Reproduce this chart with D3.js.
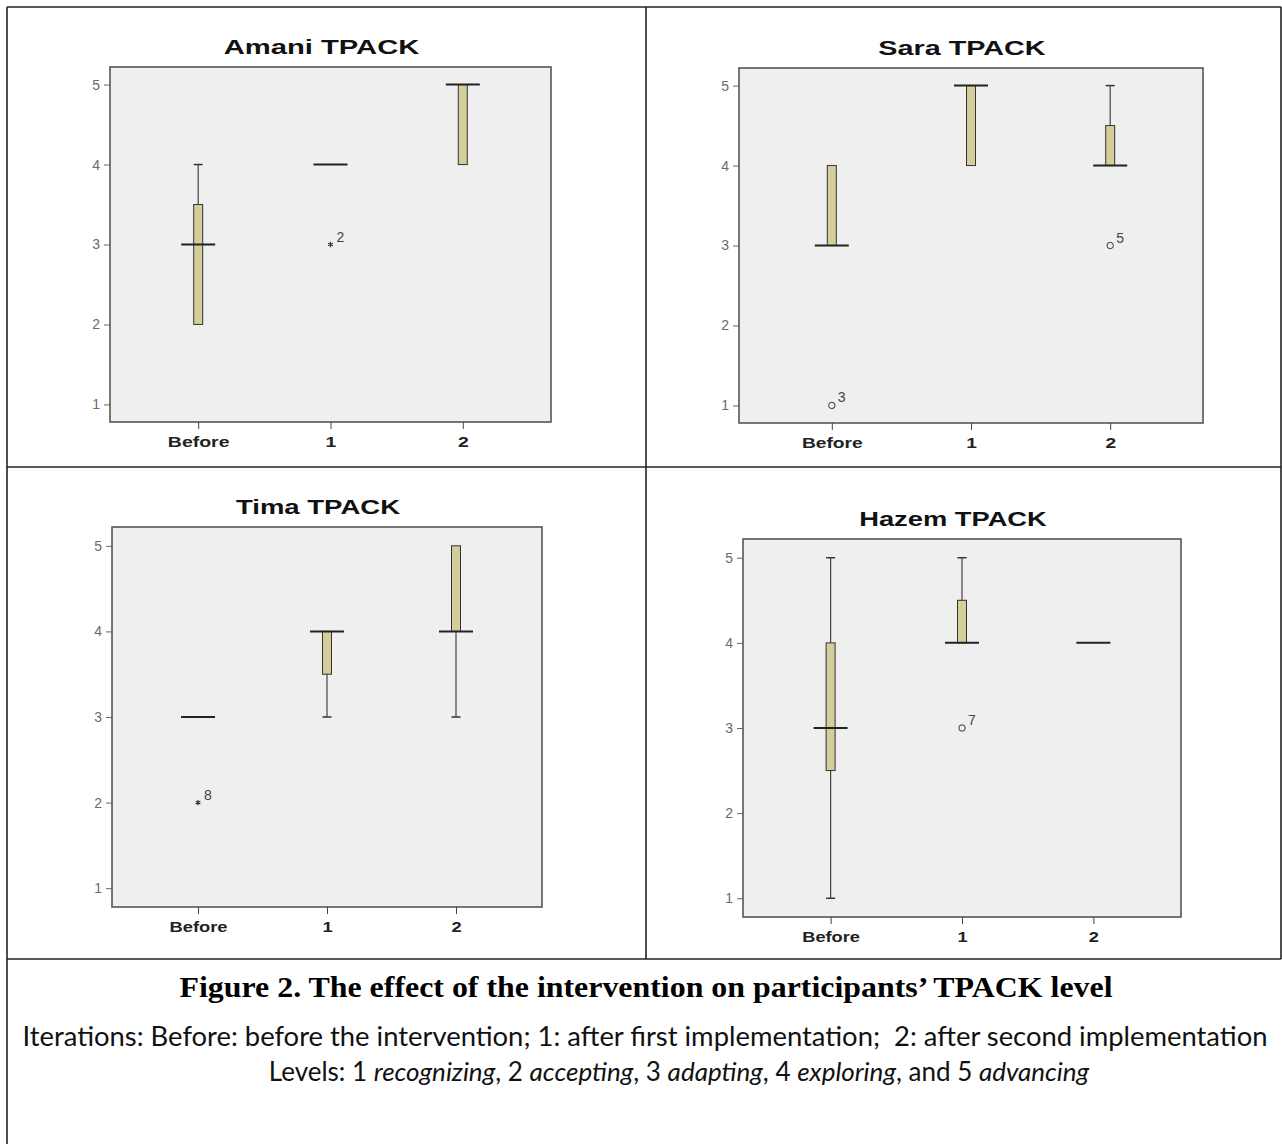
<!DOCTYPE html>
<html>
<head>
<meta charset="utf-8">
<script src="https://cdn.jsdelivr.net/npm/d3@7"></script>
<style>
  body { margin: 0; background: #fff; }
  svg { display: block; }
</style>
</head>
<body>
<div id="figure"></div>
<script>
    // iterations and level ticks
    const categories = ["Before", "1", "2"];
    const yTicks = [1, 2, 3, 4, 5];
    const participants = ["Amani", "Sara", "Tima", "Hazem"];

    // boxplot summaries per iteration: [min, q1, median, q3, max]
    const amaniStats = [[2, 2, 3, 3.5, 4], [4, 4, 4, 4, 4], [4, 4, 5, 5, 5]];
    const saraStats  = [[3, 3, 3, 4, 4], [4, 4, 5, 5, 5], [4, 4, 4, 4.5, 5]];
    const timaStats  = [[3, 3, 3, 3, 3], [3, 3.5, 4, 4, 4], [3, 4, 4, 5, 5]];
    const hazemStats = [[1, 2.5, 3, 4, 5], [4, 4, 4, 4.5, 5], [4, 4, 4, 4, 4]];

    // outliers: [iteration, value, case number, marker]
    const amaniOutliers = [["1", 3, "2", "*"]];
    const saraOutliers  = [["Before", 1, "3", "o"], ["2", 3, "5", "o"]];
    const timaOutliers  = [["Before", 2, "8", "*"]];
    const hazemOutliers = [["1", 3, "7", "o"]];

    const caption = "Figure 2. The effect of the intervention on participants\u2019 TPACK level";
    const iterationsNote = "Iterations: Before: before the intervention; 1: after first implementation;  2: after second implementation";
    const levelNames = ["recognizing", "accepting", "adapting", "exploring", "advancing"];

    const svgWidth = 1282;
    const svgHeight = 1144;

    const svg = d3.select("#figure")
        .append("svg")
        .attr("width", svgWidth)
        .attr("height", svgHeight);

    svg.append("rect")
        .attr("width", svgWidth)
        .attr("height", svgHeight)
        .attr("fill", "#fff");

    // frame of each plot inside its table cell
    const panels = [
        { name: participants[0], stats: amaniStats, outliers: amaniOutliers, left: 110, right: 551, top: 67, bottom: 422, sx: 1.39 },
        { name: participants[1], stats: saraStats,  outliers: saraOutliers,  left: 739, right: 1203, top: 68, bottom: 423, sx: 1.37 },
        { name: participants[2], stats: timaStats,  outliers: timaOutliers,  left: 112, right: 542, top: 527, bottom: 907, sx: 1.31 },
        { name: participants[3], stats: hazemStats, outliers: hazemOutliers, left: 743, right: 1181, top: 539, bottom: 917, sx: 1.30 }
    ];

    function stretch(sel, sx) {
        sel.each(function() {
            const w = this.getComputedTextLength();
            d3.select(this)
                .attr("textLength", w * sx)
                .attr("lengthAdjust", "spacingAndGlyphs");
        });
    }

    panels.forEach(function(p) {
        const g = svg.append("g");

        const x = d3.scalePoint()
            .domain(categories)
            .range([p.left, p.right])
            .padding(2 / 3);

        const y = d3.scaleLinear()
            .domain([0.78, 5.22])
            .range([p.bottom, p.top]);

        g.append("rect")
            .attr("x", p.left)
            .attr("y", p.top)
            .attr("width", p.right - p.left)
            .attr("height", p.bottom - p.top)
            .attr("fill", "#efefef")
            .attr("stroke", "#555")
            .attr("stroke-width", 1.6);

        // title
        const title = g.append("text")
            .attr("x", (p.left + p.right) / 2 - 9)
            .attr("y", p.top - 13)
            .attr("text-anchor", "middle")
            .attr("font-family", "Liberation Sans, Arial, sans-serif")
            .attr("font-weight", "bold")
            .attr("font-size", 21)
            .attr("fill", "#111")
            .text(p.name + " TPACK");
        stretch(title, p.sx);

        // y axis
        const yAxis = g.append("g")
            .attr("transform", `translate(${p.left},0)`)
            .call(d3.axisLeft(y).tickValues(yTicks).tickSize(6).tickPadding(4).tickFormat(d3.format("d")));
        yAxis.select(".domain").remove();
        yAxis.selectAll("line").attr("stroke", "#666");
        yAxis.selectAll("text")
            .attr("font-family", "Liberation Sans, Arial, sans-serif")
            .attr("font-size", 14)
            .attr("fill", "#6a6a6a");

        // x axis
        const xAxis = g.append("g")
            .attr("transform", `translate(0,${p.bottom})`)
            .call(d3.axisBottom(x).tickSize(7).tickPadding(8));
        xAxis.select(".domain").remove();
        xAxis.selectAll("line").attr("stroke", "#444");
        xAxis.selectAll("text")
            .attr("font-family", "Liberation Sans, Arial, sans-serif")
            .attr("font-weight", "bold")
            .attr("font-size", 14)
            .attr("fill", "#222")
            .call(stretch, p.sx);

        const boxW = 9;
        const medW = 34;

        p.stats.forEach(function(s, i) {
            const cx = x(categories[i]);
            const [mn, q1, med, q3, mx] = s;
            const bg = g.append("g");

            // whiskers
            if (mx > q3) {
                bg.append("line")
                    .attr("x1", cx).attr("x2", cx)
                    .attr("y1", y(q3)).attr("y2", y(mx))
                    .attr("stroke", "#444").attr("stroke-width", 1.2);
                bg.append("line")
                    .attr("x1", cx - boxW / 2).attr("x2", cx + boxW / 2)
                    .attr("y1", y(mx)).attr("y2", y(mx))
                    .attr("stroke", "#333").attr("stroke-width", 1.5);
            }
            if (mn < q1) {
                bg.append("line")
                    .attr("x1", cx).attr("x2", cx)
                    .attr("y1", y(q1)).attr("y2", y(mn))
                    .attr("stroke", "#444").attr("stroke-width", 1.2);
                bg.append("line")
                    .attr("x1", cx - boxW / 2).attr("x2", cx + boxW / 2)
                    .attr("y1", y(mn)).attr("y2", y(mn))
                    .attr("stroke", "#333").attr("stroke-width", 1.5);
            }

            // box
            if (q3 > q1) {
                bg.append("rect")
                    .attr("x", cx - boxW / 2)
                    .attr("y", y(q3))
                    .attr("width", boxW)
                    .attr("height", y(q1) - y(q3))
                    .attr("fill", "#d4ce9a")
                    .attr("stroke", "#333")
                    .attr("stroke-width", 1);
            }

            // median
            bg.append("line")
                .attr("x1", cx - medW / 2).attr("x2", cx + medW / 2)
                .attr("y1", y(med)).attr("y2", y(med))
                .attr("stroke", "#222").attr("stroke-width", 2);
        });

        // outliers
        p.outliers.forEach(function(o) {
            const ox = x(o[0]);
            const oy = y(o[1]);
            if (o[3] === "o") {
                g.append("circle")
                    .attr("cx", ox).attr("cy", oy)
                    .attr("r", 3.2)
                    .attr("fill", "none")
                    .attr("stroke", "#333")
                    .attr("stroke-width", 1);
            } else {
                g.append("path")
                    .attr("transform", `translate(${ox},${oy})`)
                    .attr("d", d3.symbol(d3.symbolAsterisk).size(20)())
                    .attr("stroke", "#333")
                    .attr("stroke-width", 1.2);
            }
            g.append("text")
                .attr("x", ox + 6)
                .attr("y", oy - 3)
                .attr("font-family", "Liberation Sans, Arial, sans-serif")
                .attr("font-size", 14)
                .attr("fill", "#444")
                .text(o[2]);
        });
    });

    // table borders
    const borders = svg.append("g")
        .attr("stroke", "#222")
        .attr("stroke-width", 1.6)
        .attr("fill", "none");
    borders.append("line").attr("x1", 7).attr("x2", 7).attr("y1", 7).attr("y2", svgHeight);
    borders.append("line").attr("x1", 7).attr("x2", 1281).attr("y1", 7).attr("y2", 7);
    borders.append("line").attr("x1", 1281).attr("x2", 1281).attr("y1", 7).attr("y2", 959);
    borders.append("line").attr("x1", 646).attr("x2", 646).attr("y1", 7).attr("y2", 959);
    borders.append("line").attr("x1", 7).attr("x2", 1281).attr("y1", 467).attr("y2", 467);
    borders.append("line").attr("x1", 7).attr("x2", 1281).attr("y1", 959).attr("y2", 959);

    // caption
    svg.append("text")
        .attr("x", 646)
        .attr("y", 997)
        .attr("text-anchor", "middle")
        .attr("font-family", "Liberation Serif, Times New Roman, serif")
        .attr("font-weight", "bold")
        .attr("font-size", 30)
        .attr("fill", "#000")
        .attr("textLength", 933)
        .attr("lengthAdjust", "spacingAndGlyphs")
        .text(caption);

    svg.append("text")
        .attr("x", 645)
        .attr("y", 1046)
        .attr("text-anchor", "middle")
        .attr("font-family", "Lato, sans-serif")
        .attr("font-size", 26)
        .attr("fill", "#111")
        .attr("textLength", 1245)
        .attr("lengthAdjust", "spacingAndGlyphs")
        .style("white-space", "pre")
        .text(iterationsNote);

    const levels = svg.append("text")
        .attr("x", 679)
        .attr("y", 1081)
        .attr("text-anchor", "middle")
        .attr("font-family", "Lato, sans-serif")
        .attr("font-size", 26)
        .attr("fill", "#111");
    levels.append("tspan").text("Levels: ");
    levelNames.forEach(function(name, i) {
        const prefix = i === 0 ? "" : (i === levelNames.length - 1 ? ", and " : ", ");
        levels.append("tspan").text(prefix + (i + 1) + " ");
        levels.append("tspan").attr("font-style", "italic").text(name);
    });
</script>
</body>
</html>
